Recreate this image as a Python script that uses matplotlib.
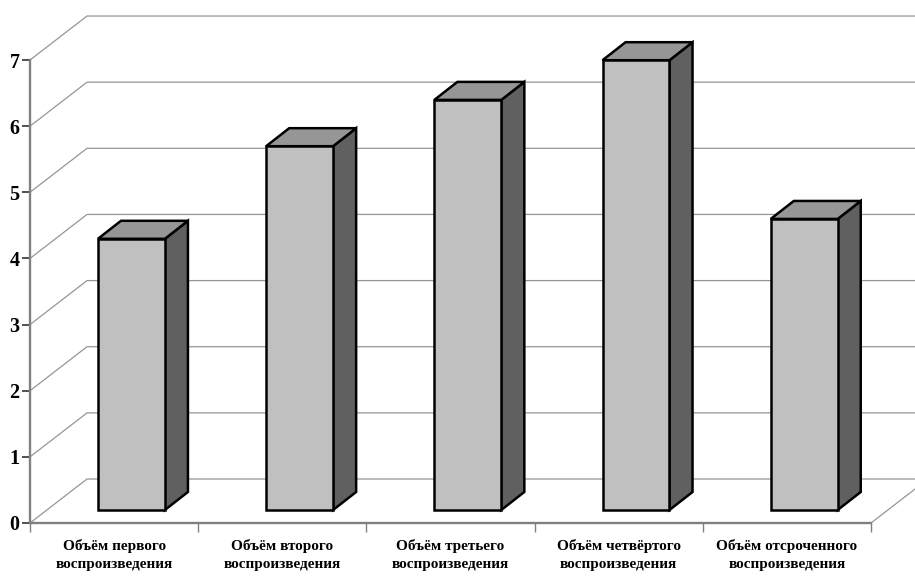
import matplotlib
matplotlib.use("Agg")
import matplotlib.pyplot as plt
from matplotlib.patches import Polygon

# Data
categories = [
    "Объём первого\nвоспроизведения",
    "Объём второго\nвоспроизведения",
    "Объём третьего\nвоспроизведения",
    "Объём четвёртого\nвоспроизведения",
    "Объём отсроченного\nвоспроизведения",
]
values = [4.1, 5.5, 6.2, 6.8, 4.4]
y_ticks = [0, 1, 2, 3, 4, 5, 6, 7]

# Fake 3D settings, in axis units
wall_dx = 0.339
wall_dy = 0.665
bar_shift_x = 0.103
bar_shift_y = 0.197
bar_width = 0.398
depth_x = 0.137
depth_y = 0.272

grid_color = "#969696"
edge_color = "black"

plt.rcParams["font.family"] = ["Liberation Serif", "DejaVu Serif"]
plt.rcParams["font.weight"] = "bold"

fig = plt.figure(figsize=(9.15, 5.76), dpi=100)
ax = fig.add_axes([30 / 915, 53 / 576, 841 / 915, 463 / 576])
ax.set_xlim(0, len(categories))
ax.set_ylim(0, 7)

# Back wall gridlines and the floor edges
for v in y_ticks:
    ax.plot([0, wall_dx, len(categories) + wall_dx], [v, v + wall_dy, v + wall_dy],
            color=grid_color, lw=0.9, clip_on=False, zorder=1)
ax.plot([len(categories), len(categories) + wall_dx], [0, wall_dy],
        color=grid_color, lw=0.9, clip_on=False, zorder=1)

# Bars: front, side and top faces
for i, v in enumerate(values):
    x0 = i + 0.5 - bar_width / 2 + bar_shift_x
    x1 = x0 + bar_width
    y0 = bar_shift_y
    y1 = v + bar_shift_y
    faces = [
        ([(x1, y0), (x1 + depth_x, y0 + depth_y), (x1 + depth_x, y1 + depth_y), (x1, y1)], "#606060"),
        ([(x0, y1), (x1, y1), (x1 + depth_x, y1 + depth_y), (x0 + depth_x, y1 + depth_y)], "#969696"),
        ([(x0, y0), (x1, y0), (x1, y1), (x0, y1)], "#c0c0c0"),
    ]
    for pts, color in faces:
        ax.add_patch(Polygon(pts, closed=True, facecolor=color, edgecolor=edge_color,
                             lw=1.8, joinstyle="miter", clip_on=False, zorder=3))

# Axes
for side in ["top", "right"]:
    ax.spines[side].set_visible(False)
for side in ["left", "bottom"]:
    ax.spines[side].set_color("#808080")
    ax.spines[side].set_linewidth(1.7)
    ax.spines[side].set_zorder(2)

ax.set_yticks(y_ticks)
ax.tick_params(axis="y", length=5.5, width=1.1, color="#202020", pad=2, labelsize=14.5)

ax.set_xticks(range(len(categories) + 1))
ax.set_xticklabels([])
ax.tick_params(axis="x", which="major", length=6.5, width=1.0, color="#808080")

ax.set_xticks([i + 0.5 for i in range(len(categories))], minor=True)
ax.set_xticklabels(categories, minor=True, fontsize=11, linespacing=1.5)
ax.tick_params(axis="x", which="minor", length=0, pad=11.5)

fig.savefig("out.png", dpi=100)
